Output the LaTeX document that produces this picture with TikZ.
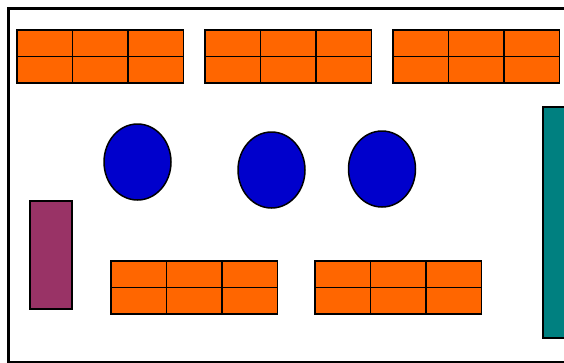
\documentclass[tikz,border=0pt]{standalone}
\usetikzlibrary{shapes.geometric}
\definecolor{corange}{HTML}{FF6600}
\definecolor{cblue}{HTML}{0000CC}
\definecolor{cpurple}{HTML}{993366}
\definecolor{cteal}{HTML}{008080}
\tikzset{
  every picture/.style={line width=1.5pt},
  desk/.style={draw, fill=corange, minimum width=55.5pt, minimum height=26.5pt, inner sep=0pt, anchor=north west},
  seat/.style={ellipse, draw, fill=cblue, minimum width=67pt, minimum height=76pt, inner sep=0pt},
  block/.style={draw=black, fill=#1, inner sep=0pt, anchor=north west},
}

\begin{document}
\begin{tikzpicture}[x=1pt, y=-1pt]
  \useasboundingbox (0,0) rectangle (564,362);
  \clip (0,0) rectangle (564,362);
  % room
  \node[draw, line width=3.5pt, inner sep=0pt, anchor=north west, minimum width=600pt, minimum height=354pt] (room) at (6.5,6.5) {};
  % tables, 2 x 3 desks each
  \foreach \t/\x/\y in {ta/16/29, tb/204/29, tc/392/29, td/110/260, te/314/260} {
    \foreach \r in {0,1} {
      \foreach \c in {0,1,2} {\node[desk] (\t\r\c) at (\x+55.5*\c, \y+26.5*\r) {};}
    }
  }
  % seats
  \node[seat] (s1) at (137.5,162) {};
  \node[seat] (s2) at (271.5,170) {};
  \node[seat] (s3) at (382,169) {};
  % cupboard and board
  \node[block=cpurple, minimum width=42pt, minimum height=108pt] (cup) at (29,200) {};
  \node[block=cteal, minimum width=40pt, minimum height=231pt] (board) at (542,106) {};
\end{tikzpicture}
\end{document}
